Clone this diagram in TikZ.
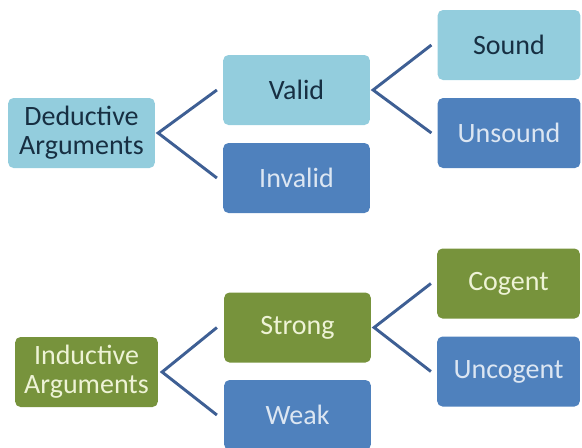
\documentclass[tikz,border=0pt]{standalone}
\usepackage{fontspec}
\setmainfont{Carlito}
\usepackage{xcolor}
\usepackage{tikz}
\usetikzlibrary{calc}
\definecolor{pale}{HTML}{93CDDD}
\definecolor{mid}{HTML}{4F81BD}
\definecolor{olive}{HTML}{77933C}
\definecolor{ink}{HTML}{172F42}
\definecolor{paletext}{HTML}{DCE6F2}
\definecolor{olivetext}{HTML}{EEF3D6}
\definecolor{brace}{HTML}{3E5F94}
\tikzset{
  box/.style={rectangle, rounded corners=4pt, minimum height=52.5pt, inner sep=2pt,
    align=center, font=\fontsize{21}{22}\selectfont},
  boxP/.style={box, fill=pale, text=ink},
  boxB/.style={box, fill=mid, text=paletext},
  boxG/.style={box, fill=olive, text=olivetext},
  wide/.style={minimum width=110pt},
  narrow/.style={minimum width=107pt},
  brk/.style={line width=2.2pt, draw=brace, line join=miter}
}

\begin{document}
\begin{tikzpicture}[x=0.75pt, y=-0.75pt]
  \useasboundingbox (0,0) rectangle (582,447);
  \clip (0,0) rectangle (582,447);

  % deductive tree
  \node[boxP,wide]   (ded)     at (81.5,133)  {Deductive\\Arguments};
  \node[boxP,wide]   (valid)   at (296.5,90)  {Valid};
  \node[boxB,wide]   (invalid) at (296.5,178) {Invalid};
  \node[boxP,narrow] (sound)   at (509,45)    {Sound};
  \node[boxB,narrow] (unsound) at (509,133)   {Unsound};

  % inductive tree
  \node[boxG,narrow] (ind)      at (86.5,372)   {Inductive\\Arguments};
  \node[boxG,wide]   (strong)   at (297.5,327.5) {Strong};
  \node[boxB,wide]   (weak)     at (297.5,415)  {Weak};
  \node[boxG,narrow] (cogent)   at (508.5,283.5) {Cogent};
  \node[boxB,narrow] (uncogent) at (508.5,371.5) {Uncogent};

  \draw[brk] ($(valid.west)+(-6,0)$) -- ($(ded.east)+(3,0)$) -- ($(invalid.west)+(-6,0)$);
  \draw[brk] ($(sound.west)+(-6,0)$) -- ($(valid.east)+(3,0)$) -- ($(unsound.west)+(-6,0)$);
  \draw[brk] ($(strong.west)+(-7,0)$) -- ($(ind.east)+(4,0)$) -- ($(weak.west)+(-7,0)$);
  \draw[brk] ($(cogent.west)+(-6,0)$) -- ($(strong.east)+(3,0)$) -- ($(uncogent.west)+(-6,0)$);
\end{tikzpicture}
\end{document}
